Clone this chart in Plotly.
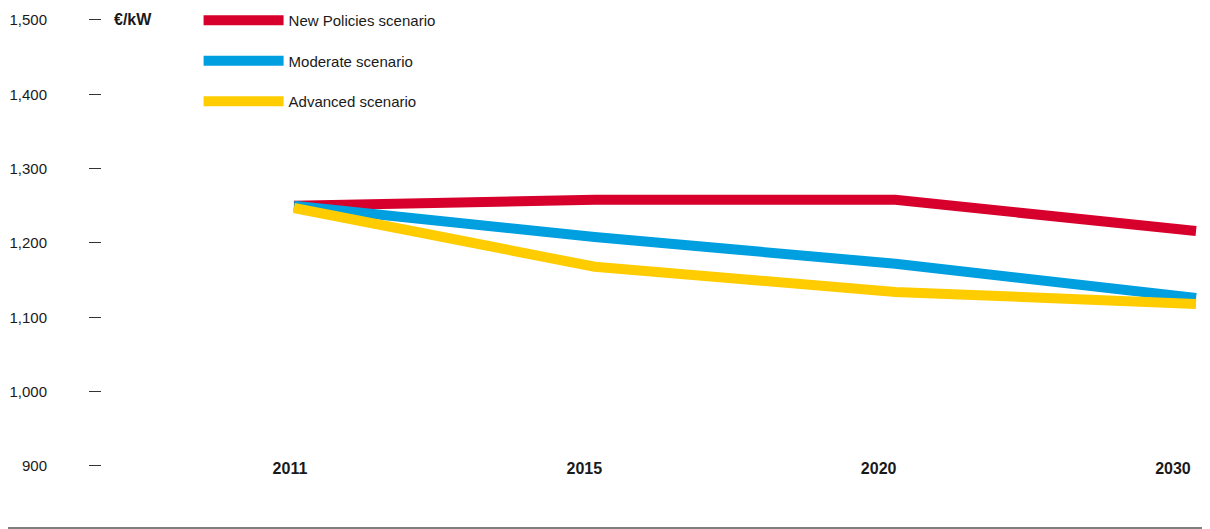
import plotly.graph_objects as go

years = ["2011", "2015", "2020", "2030"]
new_policies = [1250, 1258, 1258, 1216]
moderate = [1250, 1208, 1172, 1126]
advanced = [1247, 1168, 1134, 1118]
y_ticks = [900, 1000, 1100, 1200, 1300, 1400, 1500]
y_tick_labels = ["900", "1,000", "1,100", "1,200", "1,300", "1,400", "1,500"]
unit_label = "€/kW"

series = [
    ("New Policies scenario", new_policies, "#D7002C"),
    ("Moderate scenario", moderate, "#009FE0"),
    ("Advanced scenario", advanced, "#FFCC00"),
]

FONT = "Liberation Sans, Arial, sans-serif"
TXT = "#1a1a1a"

fig = go.Figure()
for name, vals, color in series:
    fig.add_trace(go.Scatter(x=years, y=vals, name=name, mode="lines", legendgroup=name,
                             line=dict(color=color, width=10)))

# helper axis that only carries the year labels (slightly tighter spacing, as in the original)
fig.add_trace(go.Scatter(x=list(range(len(years))), y=[y_ticks[0]] * len(years), xaxis="x2",
                         mode="markers", marker=dict(opacity=0), showlegend=False,
                         hoverinfo="skip"))

W, H = 1210, 529
fig.update_layout(
    width=W, height=H,
    margin=dict(l=0, r=0, t=0, b=10, autoexpand=False),
    plot_bgcolor="white", paper_bgcolor="white",
    font=dict(family=FONT, size=15, color=TXT),
    showlegend=True,
    legend=dict(x=0.1575, y=1.0077, xanchor="left", yanchor="top",
                bgcolor="rgba(0,0,0,0)", itemwidth=80, tracegroupgap=18,
                font=dict(family=FONT, size=15, color=TXT)),
    xaxis=dict(type="category", range=[-0.951, 3.073], showgrid=False, automargin=False,
               zeroline=False, showline=True, linecolor="#7f7f7f", linewidth=2,
               ticks="", showticklabels=False),
    xaxis2=dict(overlaying="x", anchor="free", position=0.1349, side="bottom",
                range=[-0.958, 3.153],
                tickvals=list(range(len(years))), ticktext=years, automargin=False,
                showgrid=False, zeroline=False, showline=False, ticks="",
                tickfont=dict(family=FONT, size=16, color=TXT, weight="bold")),
    yaxis=dict(range=[817.85, 1516.1], tickvals=y_ticks, ticktext=y_tick_labels,
               showgrid=False, zeroline=False, showline=False, automargin=False,
               anchor="free", position=93 / W, side="left",
               ticks="outside", ticklen=12, tickwidth=1, tickcolor="#333333",
               ticklabelstandoff=39,
               tickfont=dict(family=FONT, size=15, color=TXT)),
)

fig.add_annotation(text="<b>" + unit_label + "</b>", xref="paper", yref="y",
                   x=104 / W, y=y_ticks[-1], xanchor="left", yanchor="middle",
                   showarrow=False, font=dict(family=FONT, size=16, color=TXT))

fig.write_html("out.html")
